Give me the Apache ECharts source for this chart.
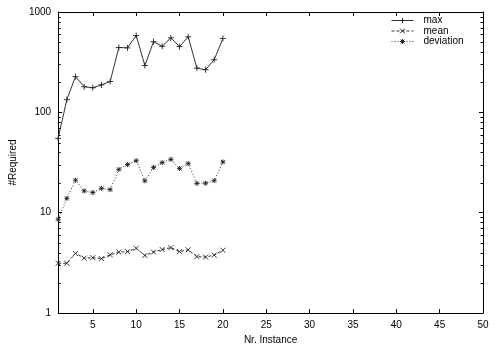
<!DOCTYPE html>
<html>
<head>
<meta charset="utf-8">
<script src="https://cdn.jsdelivr.net/npm/echarts@6/dist/echarts.min.js"></script>
<style>
  html, body { margin: 0; padding: 0; background: #fff; }
  #main { width: 500px; height: 350px; }
</style>
</head>
<body>
<div id="main"></div>
<script>
var instances = [1, 2, 3, 4, 5, 6, 7, 8, 9, 10, 11, 12, 13, 14, 15, 16, 17, 18, 19, 20];
var maxValues = [55, 134, 227, 180, 176, 188, 203, 443, 439, 583, 293, 506, 455, 553, 452, 566, 276, 266, 335, 545];
var meanValues = [3.14, 3.14, 3.93, 3.53, 3.57, 3.49, 3.81, 4.05, 4.1, 4.42, 3.75, 4.05, 4.3, 4.49, 4.1, 4.27, 3.65, 3.62, 3.78, 4.23];
var deviationValues = [8.6, 13.9, 21.1, 16.5, 15.9, 17.5, 17.0, 27, 30.2, 33, 20.8, 28.2, 31.6, 34, 27.6, 30.9, 19.6, 19.7, 20.9, 32.1];
var xTicks = [5, 10, 15, 20, 25, 30, 35, 40, 45, 50];
var yMinorTicks = [2, 3, 4, 5, 6, 7, 8, 9, 20, 30, 40, 50, 60, 70, 80, 90, 200, 300, 400, 500, 600, 700, 800, 900];

var font = 'Liberation Sans, Arial, sans-serif';
var ink = '#000';

function pairs(vals) {
    var out = [];
    for (var i = 0; i < instances.length; i++) out.push([instances[i], vals[i]]);
    return out;
}

var plusPath = 'path://M0,5L10,5M5,0L5,10';
var crossPath = 'path://M0,0L10,10M10,0L0,10';
var starPath = 'path://M0,5L10,5M5,0L5,10M1,1L9,9M9,1L1,9';

function xAxisCfg(pos, labels) {
    return {
        type: 'value', position: pos, min: 1, max: 50,
        axisLine: { show: true, onZero: false, lineStyle: { color: ink, width: 1 } },
        axisTick: { show: true, inside: true, length: 4, customValues: xTicks, lineStyle: { color: ink } },
        axisLabel: { show: labels, customValues: xTicks, color: ink, fontSize: 10, fontFamily: font, margin: 7 },
        splitLine: { show: false }
    };
}

function yAxisCfg(pos, labels) {
    return {
        type: 'log', logBase: 10, position: pos, min: 1, max: 1000,
        axisLine: { show: true, onZero: false, lineStyle: { color: ink, width: 1 } },
        axisTick: { show: true, inside: true, length: 4, lineStyle: { color: ink } },
        axisLabel: {
            show: labels, color: ink, fontSize: 10, fontFamily: font, margin: 7,
            formatter: function (v) { return String(Math.round(v)); }
        },
        splitLine: { show: false }
    };
}

var myChart = echarts.init(document.getElementById('main'));

var xBottom = xAxisCfg('bottom', true);
xBottom.name = 'Nr. Instance';
xBottom.nameLocation = 'middle';
xBottom.nameGap = 19;
xBottom.nameTextStyle = { color: ink, fontSize: 10, fontFamily: font };

var yLeft = yAxisCfg('left', true);
yLeft.name = '#Required';
yLeft.nameLocation = 'middle';
yLeft.nameGap = 40;
yLeft.nameRotate = 90;
yLeft.nameTextStyle = { color: ink, fontSize: 10, fontFamily: font };

myChart.setOption({
    animation: false,
    backgroundColor: '#fff',
    grid: { left: 55, right: 17, top: 12, bottom: 30 },
    legend: {
        data: ['max', 'mean', 'deviation'],
        orient: 'vertical',
        left: 391, top: 15.5, padding: 0,
        itemWidth: 22, itemHeight: 6, itemGap: 0.5,
        lineStyle: { width: 1 },
        itemStyle: { borderWidth: 1 },
        textStyle: { color: ink, fontSize: 10, lineHeight: 10, fontFamily: font, padding: [0, 0, 0, 5] }
    },
    xAxis: [xBottom, xAxisCfg('top', false)],
    yAxis: [yLeft, yAxisCfg('right', false)],
    series: [
        {
            name: 'max', type: 'line', data: pairs(maxValues),
            symbol: plusPath, symbolSize: 6,
            lineStyle: { color: '#333', width: 1, type: 'solid' },
            itemStyle: { color: ink, borderColor: '#222', borderWidth: 0.9 }
        },
        {
            name: 'mean', type: 'line', data: pairs(meanValues),
            symbol: crossPath, symbolSize: 5,
            lineStyle: { color: '#333', width: 1, type: [3, 2] },
            itemStyle: { color: ink, borderColor: '#222', borderWidth: 0.9 }
        },
        {
            name: 'deviation', type: 'line', data: pairs(deviationValues),
            symbol: starPath, symbolSize: 5,
            lineStyle: { color: '#333', width: 1, type: [1, 2] },
            itemStyle: { color: ink, borderColor: '#222', borderWidth: 0.9 }
        },
        {
            name: 'minorTicks', type: 'custom', silent: true,
            data: yMinorTicks.map(function (v) { return [1, v]; }),
            renderItem: function (params, api) {
                var v = api.value(1);
                var l = api.coord([1, v]);
                var r = api.coord([50, v]);
                var y = Math.round(l[1]) + 0.5;
                return {
                    type: 'group',
                    children: [
                        { type: 'line', shape: { x1: l[0], y1: y, x2: l[0] + 2.5, y2: y }, style: { stroke: ink, lineWidth: 1 } },
                        { type: 'line', shape: { x1: r[0] - 2.5, y1: y, x2: r[0], y2: y }, style: { stroke: ink, lineWidth: 1 } }
                    ]
                };
            }
        }
    ]
});
</script>
</body>
</html>
